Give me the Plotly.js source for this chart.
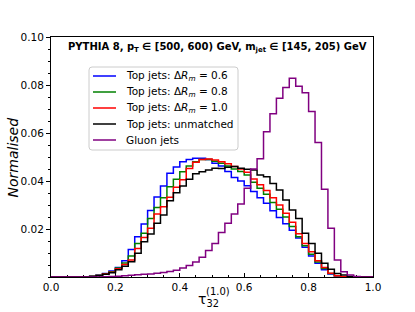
<!DOCTYPE html>
<html>
<head>
<meta charset="utf-8">
<script src="https://cdn.plot.ly/plotly-3.0.1.min.js"></script>
<style>html,body{margin:0;padding:0;background:#fff;}#chart{width:415px;height:312px;}</style>
</head>
<body>
<div id="chart"></div>
<script>
// Bin edges of tau_32^(1.0)
const tauEdges = [0.00,0.02,0.04,0.06,0.08,0.10,0.12,0.14,0.16,0.18,0.20,0.22,0.24,0.26,0.28,0.30,0.32,0.34,0.36,0.38,0.40,0.42,0.44,0.46,0.48,0.50,0.52,0.54,0.56,0.58,0.60,0.62,0.64,0.66,0.68,0.70,0.72,0.74,0.76,0.78,0.80,0.82,0.84,0.86,0.88,0.90,0.92,0.94,0.96,0.98,1.00];

// Normalised bin contents (50 bins)
const topDR06 = [0,0,0,0,0,0,0.0003,0.0008,0.0015,0.0025,0.0040,0.0068,0.0115,0.0168,0.0221,0.0277,0.0333,0.0379,0.0432,0.0458,0.0480,0.0490,0.0495,0.0495,0.0490,0.0474,0.0462,0.0440,0.0415,0.0400,0.0380,0.0356,0.0330,0.0307,0.0276,0.0248,0.0222,0.0195,0.0162,0.0124,0.0087,0.0057,0.0030,0.0012,0.0004,0,0,0,0,0];
const topDR08 = [0,0,0,0,0,0,0.0003,0.0007,0.0013,0.0022,0.0038,0.0058,0.0088,0.0140,0.0182,0.0244,0.0290,0.0330,0.0376,0.0407,0.0439,0.0462,0.0480,0.0490,0.0490,0.0482,0.0474,0.0462,0.0450,0.0440,0.0425,0.0395,0.0370,0.0345,0.0310,0.0282,0.0250,0.0210,0.0168,0.0130,0.0095,0.0062,0.0035,0.0015,0.0005,0.0001,0,0,0,0];
const topDR10 = [0,0,0,0,0,0,0.0002,0.0006,0.0012,0.0020,0.0034,0.0052,0.0071,0.0119,0.0165,0.0203,0.0262,0.0293,0.0332,0.0374,0.0405,0.0452,0.0478,0.0490,0.0492,0.0488,0.0480,0.0472,0.0460,0.0450,0.0436,0.0408,0.0384,0.0360,0.0330,0.0300,0.0266,0.0228,0.0180,0.0140,0.0105,0.0068,0.0040,0.0016,0.0005,0.0001,0,0,0,0];
const topUnmatched = [0,0,0,0,0,0,0.0002,0.0005,0.0011,0.0018,0.0030,0.0045,0.0064,0.0099,0.0147,0.0179,0.0224,0.0258,0.0318,0.0351,0.0379,0.0407,0.0430,0.0439,0.0446,0.0453,0.0452,0.0457,0.0460,0.0453,0.0449,0.0446,0.0425,0.0418,0.0390,0.0363,0.0321,0.0279,0.0244,0.0182,0.0140,0.0099,0.0057,0.0032,0.0015,0.0008,0.0002,0,0,0];
const gluon = [0,0,0,0,0,0,0,0,0.0001,0.0002,0.0003,0.0005,0.0007,0.0009,0.0011,0.0013,0.0016,0.0019,0.0023,0.0028,0.0037,0.0048,0.0062,0.0082,0.0110,0.0140,0.0185,0.0224,0.0262,0.0304,0.0370,0.0450,0.0493,0.0605,0.0680,0.0745,0.0790,0.0828,0.0795,0.0768,0.0690,0.0560,0.0366,0.0203,0.0071,0.0022,0.0008,0.0002,0,0];

const seriesNames = ["Top jets: Δ<i>R</i><sub><i>m</i></sub> = 0.6","Top jets: Δ<i>R</i><sub><i>m</i></sub> = 0.8","Top jets: Δ<i>R</i><sub><i>m</i></sub> = 1.0","Top jets: unmatched","Gluon jets"];
const seriesColors = ["#0000ff","#008000","#ff0000","#000000","#800080"];
const seriesData = [topDR06, topDR08, topDR10, topUnmatched, gluon];

const FONT = "DejaVu Sans, Liberation Sans, sans-serif";
// pixel -> paper helpers (plot area 51..373 x, 37..277 y)
const fx = px => (px - 51) / 322;
const fy = py => (277 - py) / 240;

const traces = seriesData.map((vals, k) => ({
  type: "scatter", mode: "lines", name: seriesNames[k],
  x: tauEdges, y: vals.concat([0]),
  line: {shape: "hv", color: seriesColors[k], width: 1.5},
  showlegend: false, hoverinfo: "skip"
}));

const shapes = [];
const annotations = [];
// legend frame with rounded corners
(function(){
  const x0 = 89, x1 = 238, y0 = 67, y1 = 150, r = 3;
  const p = (x, y) => fx(x) + "," + fy(y);
  const path = "M" + p(x0 + r, y0) + " L" + p(x1 - r, y0) + " Q" + p(x1, y0) + " " + p(x1, y0 + r) +
    " L" + p(x1, y1 - r) + " Q" + p(x1, y1) + " " + p(x1 - r, y1) +
    " L" + p(x0 + r, y1) + " Q" + p(x0, y1) + " " + p(x0, y1 - r) +
    " L" + p(x0, y0 + r) + " Q" + p(x0, y0) + " " + p(x0 + r, y0) + " Z";
  shapes.push({type: "path", xref: "paper", yref: "paper", path: path,
    line: {color: "#cccccc", width: 1}, fillcolor: "rgba(255,255,255,0.8)", layer: "above"});
})();
seriesNames.forEach((nm, k) => {
  const yy = 76 + 16 * k;
  shapes.push({type: "line", xref: "paper", yref: "paper", x0: fx(93), x1: fx(116), y0: fy(yy), y1: fy(yy),
    line: {color: seriesColors[k], width: 1.5}, layer: "above"});
  annotations.push({xref: "paper", yref: "paper", x: fx(124), y: fy(yy), xanchor: "left", yanchor: "middle",
    text: nm, showarrow: false, font: {family: FONT, size: 10.5, color: "#000"}});
});
// header text
annotations.push({xref: "paper", yref: "paper", x: fx(66), y: fy(48), xanchor: "left", yanchor: "middle",
  text: "<b>PYTHIA 8, p<sub>T</sub> ∈ [500, 600) GeV, m<sub>jet</sub> ∈ [145, 205) GeV</b>",
  showarrow: false, font: {family: FONT, size: 10, color: "#000"}});
// x-axis title: tau_32 with stacked superscript (1.0)
annotations.push({xref: "paper", yref: "paper", x: fx(196), y: fy(300), xanchor: "left", yanchor: "middle",
  text: "τ<sub>32</sub>", showarrow: false, font: {family: FONT, size: 14, color: "#000"}});
annotations.push({xref: "paper", yref: "paper", x: fx(204), y: fy(291), xanchor: "left", yanchor: "middle",
  text: "(1.0)", showarrow: false, font: {family: FONT, size: 10, color: "#000"}});
// y-axis title
annotations.push({xref: "paper", yref: "paper", x: fx(12), y: fy(157.5), xanchor: "center", yanchor: "middle",
  textangle: -90, text: "<i>Normalised</i>", showarrow: false, font: {family: FONT, size: 14, color: "#000"}});

const layout = {
  width: 415, height: 312,
  margin: {l: 51, r: 42, t: 37, b: 35, pad: 0},
  paper_bgcolor: "#fff", plot_bgcolor: "#fff",
  showlegend: false,
  font: {family: FONT, color: "#000"},
  xaxis: {
    range: [0, 1], tickmode: "linear", tick0: 0, dtick: 0.2, tickformat: ".1f",
    ticks: "inside", ticklen: 4, tickwidth: 1, tickcolor: "#000",
    minor: {tickmode: "linear", tick0: 0, dtick: 0.05, ticks: "inside", ticklen: 2, tickcolor: "#000"},
    showline: true, mirror: true, linecolor: "#000", linewidth: 1,
    showgrid: false, zeroline: false, layer: "below traces",
    tickfont: {family: FONT, size: 10.5, color: "#000"}
  },
  yaxis: {
    range: [0, 0.1], tickmode: "array",
    tickvals: [0.02, 0.04, 0.06, 0.08, 0.10], ticktext: ["0.02", "0.04", "0.06", "0.08", "0.10"],
    ticks: "outside", ticklen: 4, tickwidth: 1, tickcolor: "#000",
    minor: {tickmode: "linear", tick0: 0, dtick: 0.005, ticks: "outside", ticklen: 2, tickcolor: "#000"},
    showline: true, mirror: true, linecolor: "#000", linewidth: 1,
    showgrid: false, zeroline: false,
    tickfont: {family: FONT, size: 10.5, color: "#000"}
  },
  shapes: shapes,
  annotations: annotations
};

Plotly.newPlot("chart", traces, layout, {staticPlot: true, displayModeBar: false});
</script>
</body>
</html>
